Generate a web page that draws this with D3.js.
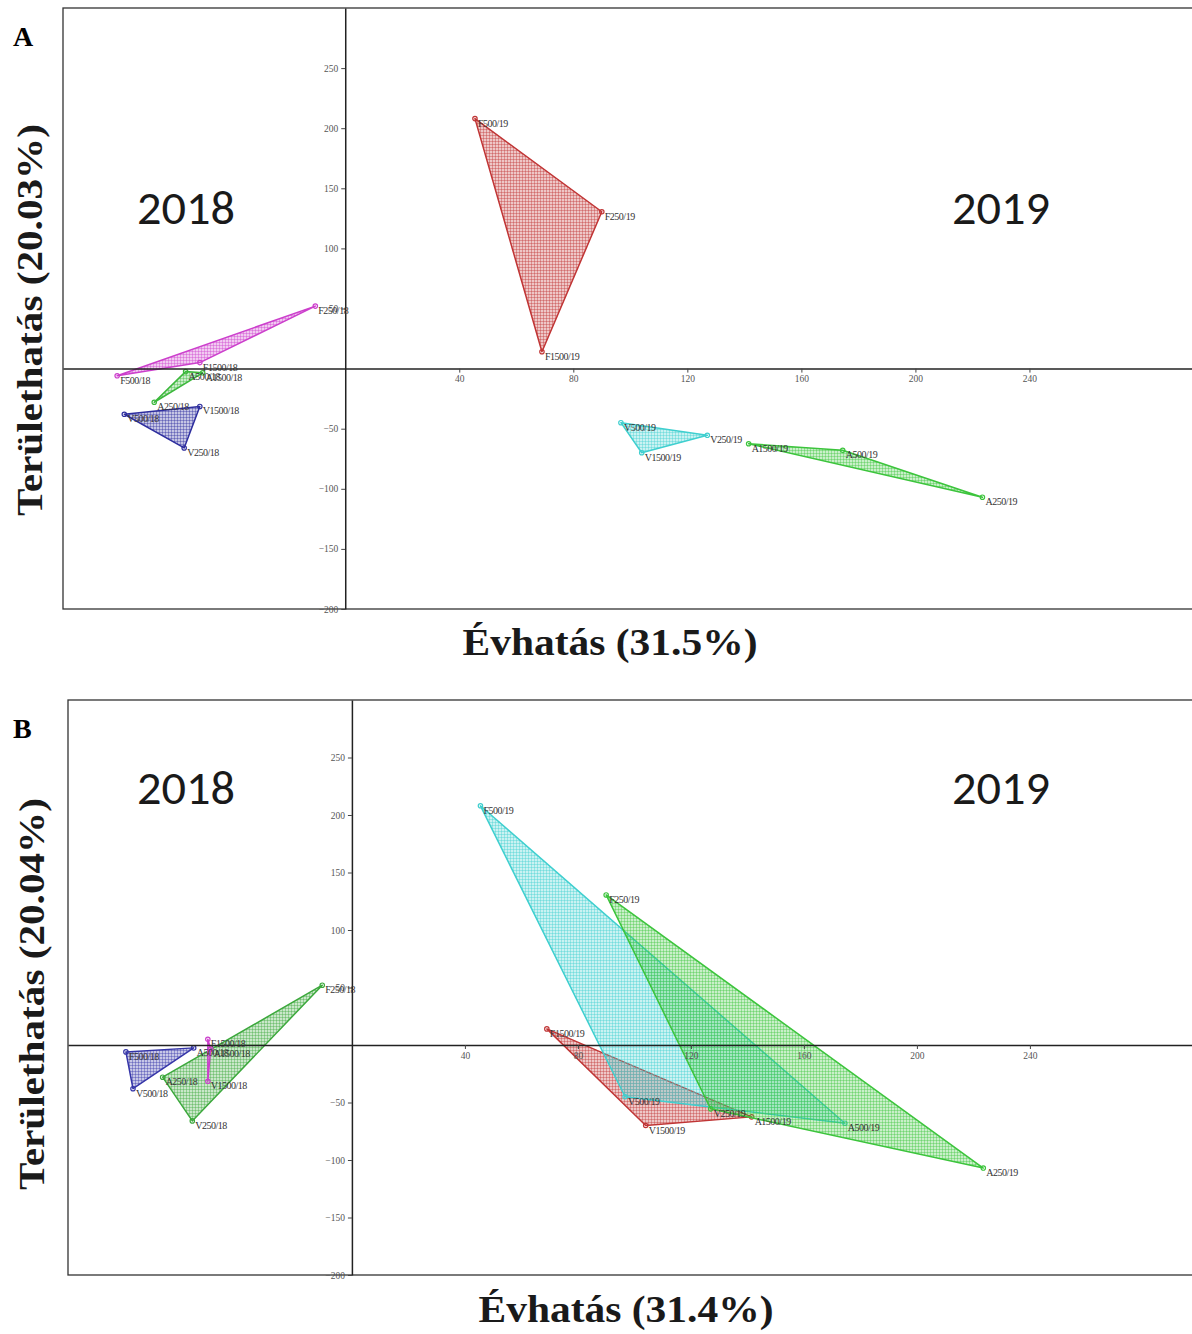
<!DOCTYPE html>
<html>
<head>
<meta charset="utf-8">
<script src="https://cdn.jsdelivr.net/npm/d3@7"></script>
<style>
  body { margin: 0; background: #fff; }
  svg { display: block; }
  .tick text { font-family: "Liberation Serif", serif; font-size: 9.5px; fill: #555; }
  .ptlabel { font-family: "Liberation Serif", serif; font-size: 10px; fill: #333; letter-spacing: -0.5px; }
</style>
</head>
<body>
<div id="chart"></div>
<script>
// point names and coordinates (shared by both panels)
var pointNames = ["F250/18","F500/18","F1500/18","A250/18","A500/18","A1500/18","V250/18","V500/18","V1500/18",
                  "F250/19","F500/19","F1500/19","A250/19","A500/19","A1500/19","V250/19","V500/19","V1500/19"];
var pointX = [-10.5, -80, -51, -67, -56, -50, -56.5, -77.5, -51,
              90, 45.5, 69, 223.5, 174.5, 141.5, 127, 96.7, 104];
var pointY = [52, -6, 5, -28, -2.5, -3.5, -66, -38, -31.5,
              130.5, 208, 14, -107, -68, -62.5, -55.5, -45, -70];

// panel A: grouped by treatment type
var groupsA = [
  ["F250/18","F1500/18","F500/18"],
  ["A500/18","A1500/18","A250/18"],
  ["V500/18","V1500/18","V250/18"],
  ["F500/19","F250/19","F1500/19"],
  ["V500/19","V250/19","V1500/19"],
  ["A1500/19","A500/19","A250/19"]
];
var coloursA = ["#cc3fcc", "#3cb83c", "#2e2e9e", "#c03535", "#3fcfcf", "#3cc43c"];

// panel B: grouped by dose
var groupsB = [
  ["F500/18","A500/18","V500/18"],
  ["F250/18","V250/18","A250/18"],
  ["F1500/18","A1500/18","V1500/18"],
  ["F1500/19","A1500/19","V1500/19"],
  ["F500/19","A500/19","V500/19"],
  ["F250/19","A250/19","V250/19"]
];
var coloursB = ["#3535a8", "#3ca83c", "#cc3fcc", "#c03535", "#3fcfcf", "#3cc43c"];

var xTicks = [40, 80, 120, 160, 200, 240];
var yTicks = [250, 200, 150, 100, 50, -50, -100, -150, -200];

var panels = [
  { letter: "A", ylab: "Területhatás (20.03%)", xlab: "Évhatás (31.5%)", groups: groupsA, colours: coloursA,
    left: 63, top: 8, bottom: 609, xdom: [-99, 300], right: 1200.5,
    yearY: 224, xlabX: 610, xlabY: 655, ylabX: 42, ylabY: 320 },
  { letter: "B", ylab: "Területhatás (20.04%)", xlab: "Évhatás (31.4%)", groups: groupsB, colours: coloursB,
    left: 68, top: 700, bottom: 1275, xdom: [-100.5, 300], right: 1199.4,
    yearY: 804, xlabX: 626, xlabY: 1322, ylabX: 44, ylabY: 994 }
];

var svg = d3.select("#chart").append("svg")
  .attr("width", 1192)
  .attr("height", 1334);

var defs = svg.append("defs");
var patId = 0;
function hatch(colour) {
  var id = "hatch" + (patId++);
  var p = defs.append("pattern")
    .attr("id", id)
    .attr("patternUnits", "userSpaceOnUse")
    .attr("width", 3).attr("height", 3);
  p.append("rect").attr("width", 3).attr("height", 3)
    .attr("fill", colour).attr("fill-opacity", 0.28);
  p.append("path").attr("d", "M0,0.5H3M0.5,0V3")
    .attr("stroke", colour).attr("stroke-width", 0.7).attr("stroke-opacity", 0.55);
  return "url(#" + id + ")";
}

function byName(n) {
  var i = pointNames.indexOf(n);
  return { name: n, x: pointX[i], y: pointY[i] };
}

panels.forEach(function(pn) {
  var x = d3.scaleLinear().domain(pn.xdom).range([pn.left, pn.right]);
  var y = d3.scaleLinear().domain([-200, 300]).range([pn.bottom, pn.top]);

  var g = svg.append("g");

  // frame
  g.append("rect")
    .attr("x", pn.left).attr("y", pn.top)
    .attr("width", pn.right - pn.left).attr("height", pn.bottom - pn.top)
    .attr("fill", "none").attr("stroke", "#333").attr("stroke-width", 1.3);

  // polygons
  pn.groups.forEach(function(grp, gi) {
    var pts = grp.map(byName);
    var col = pn.colours[gi];
    g.append("polygon")
      .attr("points", pts.map(function(d) { return x(d.x) + "," + y(d.y); }).join(" "))
      .attr("fill", hatch(col))
      .attr("stroke", col)
      .attr("stroke-width", 1.5)
      .attr("stroke-linejoin", "round");
    g.selectAll(null).data(pts).enter().append("circle")
      .attr("cx", function(d) { return x(d.x); })
      .attr("cy", function(d) { return y(d.y); })
      .attr("r", 2.2)
      .attr("fill", "none")
      .attr("stroke", col)
      .attr("stroke-width", 1.2);
  });

  // axes through origin
  var yAxis = d3.axisLeft(y).tickValues(yTicks).tickSize(4).tickSizeOuter(0);
  var xAxis = d3.axisBottom(x).tickValues(xTicks).tickSize(4).tickSizeOuter(0);
  var ya = g.append("g").attr("transform", "translate(" + x(0) + ",0)").call(yAxis);
  var xa = g.append("g").attr("transform", "translate(0," + y(0) + ")").call(xAxis);
  [ya, xa].forEach(function(a) {
    a.select(".domain").attr("stroke", "#222").attr("stroke-width", 1.5);
    a.selectAll(".tick line").attr("stroke", "#444");
  });

  // point labels
  pn.groups.forEach(function(grp) {
    g.selectAll(null).data(grp.map(byName)).enter().append("text")
      .attr("class", "ptlabel")
      .attr("x", function(d) { return x(d.x) + 3; })
      .attr("y", function(d) { return y(d.y) + 8; })
      .text(function(d) { return d.name; });
  });

  // year labels
  [["2018", 186], ["2019", 1001]].forEach(function(yl) {
    g.append("text").attr("x", yl[1]).attr("y", pn.yearY).attr("text-anchor", "middle")
      .style("font-family", "Carlito, Lato, 'Open Sans', sans-serif").style("font-size", "47px").attr("fill", "#1a1a1a")
      .attr("textLength", 98).attr("lengthAdjust", "spacingAndGlyphs")
      .text(yl[0]);
  });

  // panel letter
  g.append("text").attr("x", 13).attr("y", pn.top + 38)
    .style("font-family", "'Liberation Serif', serif").style("font-size", "28px").style("font-weight", "bold")
    .text(pn.letter);

  // axis titles
  g.append("text")
    .attr("transform", "translate(" + pn.ylabX + "," + pn.ylabY + ") rotate(-90)")
    .attr("text-anchor", "middle")
    .style("font-family", "'Liberation Serif', serif").style("font-size", "36px").style("font-weight", "bold")
    .attr("fill", "#1a1a1a")
    .attr("textLength", 392).attr("lengthAdjust", "spacingAndGlyphs")
    .text(pn.ylab);
  g.append("text")
    .attr("x", pn.xlabX).attr("y", pn.xlabY)
    .attr("text-anchor", "middle")
    .style("font-family", "'Liberation Serif', serif").style("font-size", "37px").style("font-weight", "bold")
    .attr("fill", "#1a1a1a")
    .attr("textLength", 295).attr("lengthAdjust", "spacingAndGlyphs")
    .text(pn.xlab);
});
</script>
</body>
</html>
